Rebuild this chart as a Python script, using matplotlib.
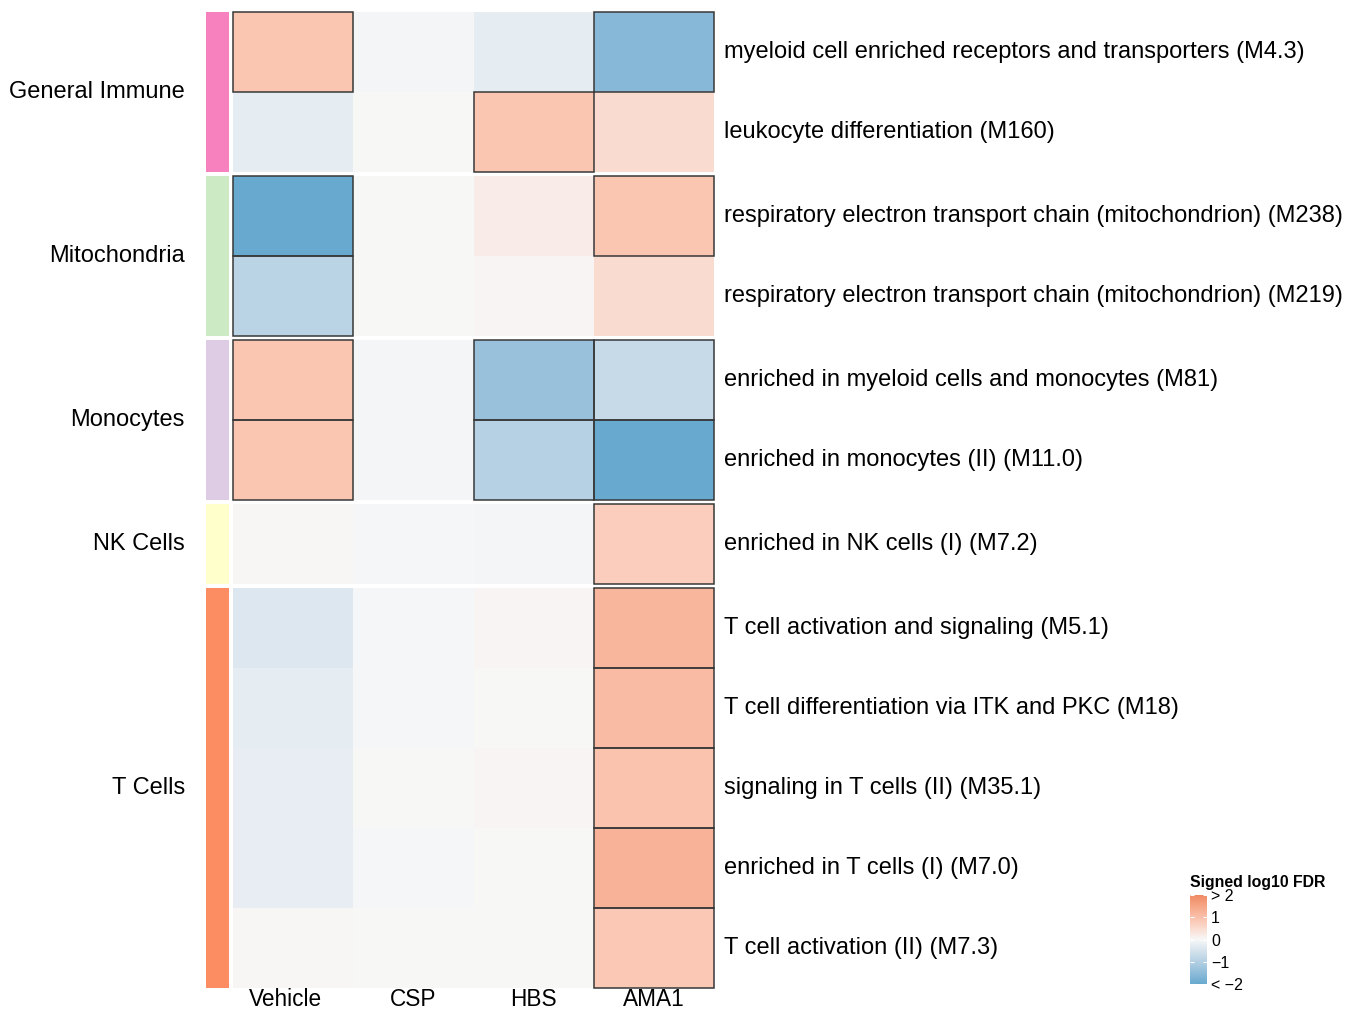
import numpy as np
import matplotlib
matplotlib.use('Agg')
import matplotlib.pyplot as plt
from matplotlib.colors import ListedColormap, Normalize, to_rgb
from matplotlib.patches import Rectangle
from matplotlib.cm import ScalarMappable

plt.rcParams['font.family'] = ['Liberation Sans', 'DejaVu Sans']

# ── Data ───────────────────────────────────────────────────────────
conditions = ['Vehicle', 'CSP', 'HBS', 'AMA1']
groups = ['General Immune', 'Mitochondria', 'Monocytes', 'NK Cells', 'T Cells']
group_sizes = [2, 2, 2, 1, 5]
group_colors = ['#f781bf', '#ccebc5', '#decbe4', '#ffffcc', '#fc8d62']

modules = [
    'myeloid cell enriched receptors and transporters (M4.3)',
    'leukocyte differentiation (M160)',
    'respiratory electron transport chain (mitochondrion) (M238)',
    'respiratory electron transport chain (mitochondrion) (M219)',
    'enriched in myeloid cells and monocytes (M81)',
    'enriched in monocytes (II) (M11.0)',
    'enriched in NK cells (I) (M7.2)',
    'T cell activation and signaling (M5.1)',
    'T cell differentiation via ITK and PKC (M18)',
    'signaling in T cells (II) (M35.1)',
    'enriched in T cells (I) (M7.0)',
    'T cell activation (II) (M7.3)',
]

signed_fdr = np.array([
    [0.90, -0.04, -0.28, -1.60],
    [-0.28, 0.00, 0.90, 0.50],
    [-2.00, 0.00, 0.20, 0.90],
    [-0.90, 0.00, 0.05, 0.50],
    [0.90, -0.04, -1.35, -0.72],
    [0.90, -0.04, -0.95, -2.00],
    [0.03, -0.03, -0.06, 0.75],
    [-0.40, -0.03, 0.06, 1.20],
    [-0.26, -0.03, 0.00, 1.10],
    [-0.24, 0.01, 0.05, 0.95],
    [-0.24, -0.03, 0.00, 1.25],
    [0.03, 0.01, 0.00, 0.85],
])

significant = np.array([
    [1, 0, 0, 1],
    [0, 0, 1, 0],
    [1, 0, 0, 1],
    [1, 0, 0, 0],
    [1, 0, 1, 1],
    [1, 0, 1, 1],
    [0, 0, 0, 1],
    [0, 0, 0, 1],
    [0, 0, 0, 1],
    [0, 0, 0, 1],
    [0, 0, 0, 1],
    [0, 0, 0, 1],
], dtype=bool)

tick_vals = [-2, -1, 0, 1, 2]
tick_labels = ['< \u22122', '\u22121', '0', '1', '> 2']

# ── Colour ramp interpolated in LAB space ─────────────────────────
_M = np.array([[0.4124, 0.3576, 0.1805],
               [0.2126, 0.7152, 0.0722],
               [0.0193, 0.1192, 0.9505]])
_WP = np.array([0.95047, 1.0, 1.08883])

def rgb2lab(rgb):
    c = np.asarray(rgb, float)
    lin = np.where(c <= 0.04045, c / 12.92, ((c + 0.055) / 1.055) ** 2.4)
    xyz = _M @ lin / _WP
    f = np.where(xyz > 0.008856, np.cbrt(xyz), 7.787 * xyz + 16 / 116)
    return np.array([116 * f[1] - 16, 500 * (f[0] - f[1]), 200 * (f[1] - f[2])])

def lab2rgb(lab):
    L, a, b = lab
    fy = (L + 16) / 116
    fx, fz = fy + a / 500, fy - b / 200
    f = np.array([fx, fy, fz])
    xyz = np.where(f ** 3 > 0.008856, f ** 3, (f - 16 / 116) / 7.787) * _WP
    lin = np.linalg.solve(_M, xyz)
    lin = np.clip(lin, 0, 1)
    c = np.where(lin <= 0.0031308, 12.92 * lin, 1.055 * lin ** (1 / 2.4) - 0.055)
    return np.clip(c, 0, 1)

stops = [rgb2lab(to_rgb(c)) for c in ('#67a9cf', '#f7f7f7', '#ef8a62')]
ramp = []
for t in np.linspace(0, 1, 256):
    if t <= 0.5:
        s = t / 0.5
        lab = stops[0] * (1 - s) + stops[1] * s
    else:
        s = (t - 0.5) / 0.5
        lab = stops[1] * (1 - s) + stops[2] * s
    ramp.append(lab2rgb(lab))
cmap = ListedColormap(ramp)
norm = Normalize(vmin=-2, vmax=2)

# ── Layout (pixels) ────────────────────────────────────────────────
W, H = 1354, 1011
X0, X1 = 233, 714
ROW_H = 80
GAP = 4
TOP = 12

fig = plt.figure(figsize=(W / 100, H / 100), dpi=100)

def fig_rect(x, y_top, w, h):
    return [x / W, 1 - (y_top + h) / H, w / W, h / H]

y = TOP
r0 = 0
for g, n in enumerate(group_sizes):
    h = n * ROW_H
    vals = signed_fdr[r0:r0 + n]
    sig = significant[r0:r0 + n]

    ax = fig.add_axes(fig_rect(X0, y, X1 - X0, h))
    ax.pcolormesh(np.arange(5), np.arange(n + 1), vals, cmap=cmap, norm=norm)
    ax.set_xlim(0, 4)
    ax.set_ylim(n, 0)
    ax.axis('off')
    for i in range(n):
        for j in range(4):
            if sig[i, j]:
                ax.add_patch(Rectangle((j, i), 1, 1, fill=False, ec='#383838',
                                       lw=1.1, clip_on=False, zorder=5))
        ax.text(4 + 10 / 120.25, i + 0.5, modules[r0 + i], ha='left',
                va='center', fontsize=17, color='black')
    if g == len(group_sizes) - 1:
        for j, c in enumerate(conditions):
            ax.text(j + 0.5 - (0.06 if j == 0 else 0), n + 0.15, c,
                    ha='center', va='center', fontsize=16.3)

    # annotation bar
    ax_a = fig.add_axes(fig_rect(206, y, 23, h))
    ax_a.set_facecolor(group_colors[g])
    ax_a.set_xticks([]); ax_a.set_yticks([])
    for s in ax_a.spines.values():
        s.set_visible(False)

    fig.text(185 / W, 1 - (y + h / 2) / H, groups[g], ha='right', va='center',
             fontsize=17)

    y += h + GAP
    r0 += n

# ── Legend ─────────────────────────────────────────────────────────
cax = fig.add_axes(fig_rect(1190, 895, 17, 89))
cb = fig.colorbar(ScalarMappable(norm=norm, cmap=cmap), cax=cax, ticks=tick_vals)
cb.outline.set_visible(False)
cb.ax.set_yticklabels(tick_labels)
cax.tick_params(axis='y', which='both', direction='in', color='white',
                length=3, width=0.8, left=True, right=True, labelsize=11.5, pad=3)
fig.text(1190 / W, 1 - 883 / H, 'Signed log10 FDR', ha='left', va='center',
         fontsize=11.4, fontweight='bold')

fig.savefig('out.png', dpi=100, facecolor='white')
